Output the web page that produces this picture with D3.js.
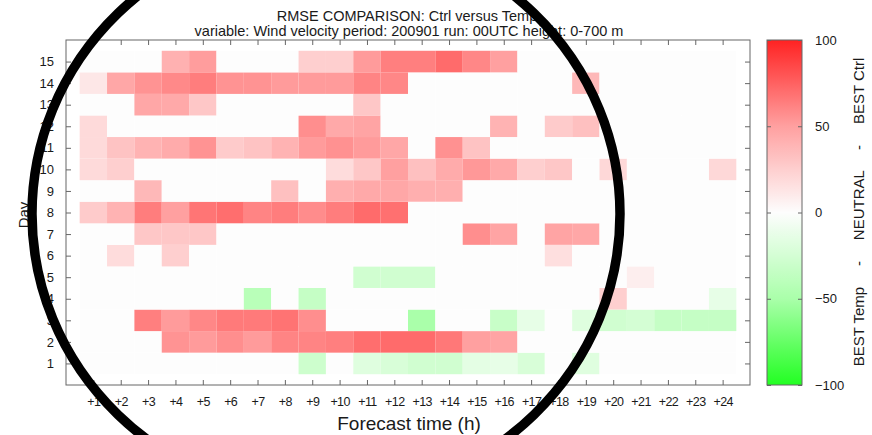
<!DOCTYPE html>
<html>
<head>
<meta charset="utf-8">
<script src="https://cdn.jsdelivr.net/npm/d3@7"></script>
<style>
  html, body { margin: 0; padding: 0; background: #fff; }
  svg { display: block; font-family: "Liberation Sans", Arial, Helvetica, sans-serif; }
</style>
</head>
<body>
<svg id="chart" width="872" height="435"></svg>
<script>
// Forecast hours (x) and days (y)
const hours = d3.range(1, 25);
const hourLabels = hours.map(h => "+" + h);
const days = d3.range(1, 16);

// Relative RMSE difference per day, one value per forecast hour (+1 .. +24)
// positive: Ctrl better, negative: Temp better
const day01 = [0, 0, 0, 0, 0, 0, 0, 0, -29, 0, -18, -22, -27, -27, -15, -13, -22, 0, -18, 0, 0, 0, 0, 0];
const day02 = [0, 0, 0, 55, 52, 57, 52, 61, 61, 63, 70, 71, 71, 66, 50, 48, 0, 0, 0, 0, 0, 0, 0, 0];
const day03 = [0, 0, 63, 52, 60, 65, 65, 68, 57, 0, 0, 0, -50, 0, 0, -32, -13, 0, -18, -27, -25, -34, -34, -34];
const day04 = [0, 0, 0, 0, 0, 0, -41, 0, -34, 0, 0, 0, 0, 0, 0, 0, 0, 0, 0, 25, 0, 0, 0, -13];
const day05 = [0, 0, 0, 0, 0, 0, 0, 0, 0, 0, -27, -27, -27, 0, 0, 0, 0, 0, 0, 0, 8, 0, 0, 0];
const day06 = [0, 18, 0, 25, 0, 0, 0, 0, 0, 0, 0, 0, 0, 0, 0, 0, 0, 16, 0, 0, 0, 0, 0, 0];
const day07 = [0, 0, 29, 29, 29, 0, 0, 0, 0, 0, 0, 0, 0, 0, 57, 48, 0, 48, 46, 0, 0, 0, 0, 0];
const day08 = [27, 40, 64, 50, 67, 70, 61, 64, 58, 64, 71, 69, 0, 0, 0, 0, 0, 0, 0, 0, 0, 0, 0, 0];
const day09 = [0, 0, 37, 0, 0, 0, 0, 33, 0, 42, 45, 46, 42, 42, 0, 0, 0, 0, 0, 0, 0, 0, 0, 0];
const day10 = [19, 25, 0, 0, 0, 0, 0, 0, 0, 18, 29, 50, 33, 44, 53, 45, 25, 29, 0, 20, 0, 0, 0, 20];
const day11 = [19, 31, 40, 44, 55, 27, 31, 40, 52, 56, 52, 46, 0, 56, 31, 0, 0, 0, 0, 0, 0, 0, 0, 0];
const day12 = [19, 0, 0, 0, 0, 0, 0, 0, 57, 45, 48, 0, 0, 0, 0, 40, 0, 27, 33, 0, 0, 0, 0, 0];
const day13 = [0, 0, 46, 45, 29, 0, 0, 0, 0, 0, 29, 0, 0, 0, 0, 0, 0, 0, 0, 0, 0, 0, 0, 0];
const day14 = [12, 46, 55, 59, 64, 55, 55, 52, 52, 52, 61, 60, 0, 0, 0, 0, 0, 0, 37, 0, 0, 0, 0, 0];
const day15 = [0, 0, 0, 41, 51, 0, 0, 0, 25, 25, 52, 63, 63, 71, 60, 50, 0, 0, 0, 0, 0, 0, 0, 0];
const rows = [day01, day02, day03, day04, day05, day06, day07, day08,
              day09, day10, day11, day12, day13, day14, day15];

// Colour bar ticks
const cbTicks = [-100, -50, 0, 50, 100];

// Flattened cell table built from the rows above
const cells = [];
rows.forEach((vals, i) => vals.forEach((v, j) => cells.push({ day: days[i], hour: hours[j], value: v })));

const svg = d3.select("#chart");
const plot = { left: 66, right: 750, top: 40, bottom: 385 };
const cb = { left: 767, right: 802 };
const textColor = "#1a1a1a";
const frameColor = "#666";

const x = d3.scaleLinear().domain([0, 25]).range([plot.left, plot.right]);
const y = d3.scaleLinear().domain([0, 16]).range([plot.bottom, plot.top]);

const color = d3.scaleLinear()
  .domain([-100, -50, 0, 50, 100])
  .range(["#22ff22", "#aaffaa", "#fdfdfd", "#ffa0a0", "#ff2222"])
  .clamp(true);

// Heat-map cells
svg.append("g").selectAll("rect")
  .data(cells)
  .join("rect")
  .attr("x", d => x(d.hour - 0.5))
  .attr("y", d => y(d.day + 0.5))
  .attr("width", d => x(d.hour + 0.5) - x(d.hour - 0.5))
  .attr("height", d => y(d.day - 0.5) - y(d.day + 0.5))
  .attr("fill", d => color(d.value));

// Axes (ticks pointing inwards, mirrored on the opposite sides)
const tickLen = 5;
const xBottom = svg.append("g")
  .attr("transform", `translate(0,${plot.bottom})`)
  .call(d3.axisBottom(x).tickValues(hours).tickFormat((d, i) => hourLabels[i])
    .tickSizeInner(-tickLen).tickSizeOuter(0).tickPadding(12));
const xTop = svg.append("g")
  .attr("transform", `translate(0,${plot.top})`)
  .call(d3.axisTop(x).tickValues(hours).tickFormat("").tickSizeInner(-tickLen).tickSizeOuter(0));
const yLeft = svg.append("g")
  .attr("transform", `translate(${plot.left},0)`)
  .call(d3.axisLeft(y).tickValues(days).tickFormat(d3.format("d"))
    .tickSizeInner(-tickLen).tickSizeOuter(0).tickPadding(12));
const yRight = svg.append("g")
  .attr("transform", `translate(${plot.right},0)`)
  .call(d3.axisRight(y).tickValues(days).tickFormat("").tickSizeInner(-tickLen).tickSizeOuter(0));

[xBottom, xTop, yLeft, yRight].forEach(g => {
  g.select(".domain").remove();
  g.selectAll("line").attr("stroke", frameColor);
  g.selectAll("text").attr("fill", textColor).attr("font-size", 13)
    .attr("font-family", "Liberation Sans, Arial, sans-serif");
});
xBottom.selectAll("text").attr("font-size", 12.5).attr("letter-spacing", -0.6);

// Plot frame
svg.append("rect")
  .attr("x", plot.left).attr("y", plot.top)
  .attr("width", plot.right - plot.left).attr("height", plot.bottom - plot.top)
  .attr("fill", "none").attr("stroke", frameColor).attr("stroke-width", 1);

// Titles
svg.append("text").attr("x", 407).attr("y", 20.5).attr("text-anchor", "middle")
  .attr("font-size", 14.5).attr("fill", textColor)
  .text("RMSE COMPARISON: Ctrl versus Temp");
svg.append("text").attr("x", 409).attr("y", 35.5).attr("text-anchor", "middle")
  .attr("font-size", 14.5).attr("fill", textColor)
  .text("variable: Wind velocity period: 200901 run: 00UTC height: 0-700 m");

// Axis titles
svg.append("text").attr("x", 409).attr("y", 430).attr("text-anchor", "middle")
  .attr("font-size", 19).attr("fill", textColor)
  .text("Forecast time (h)");
svg.append("text").attr("transform", "translate(29,215) rotate(-90)").attr("text-anchor", "middle")
  .attr("font-size", 15).attr("fill", textColor)
  .text("Day");

// Colour bar
const cbY = d3.scaleLinear().domain([-100, 100]).range([plot.bottom, plot.top]);
const defs = svg.append("defs");
const grad = defs.append("linearGradient").attr("id", "cbGrad")
  .attr("x1", 0).attr("y1", 1).attr("x2", 0).attr("y2", 0);
d3.range(-100, 101, 5).forEach(v => {
  grad.append("stop").attr("offset", (v + 100) / 200).attr("stop-color", color(v));
});
svg.append("rect")
  .attr("x", cb.left).attr("y", plot.top)
  .attr("width", cb.right - cb.left).attr("height", plot.bottom - plot.top)
  .attr("fill", "url(#cbGrad)").attr("stroke", frameColor).attr("stroke-width", 1);

const cbAxis = svg.append("g")
  .attr("transform", `translate(${cb.right},0)`)
  .call(d3.axisRight(cbY).tickValues(cbTicks).tickFormat(d3.format("d"))
    .tickSizeInner(-4).tickSizeOuter(0).tickPadding(13));
cbAxis.select(".domain").remove();
cbAxis.selectAll("line").attr("stroke", frameColor);
cbAxis.selectAll("text").attr("fill", textColor).attr("font-size", 13)
  .attr("font-family", "Liberation Sans, Arial, sans-serif");
svg.append("g").attr("transform", `translate(${cb.left},0)`)
  .call(d3.axisLeft(cbY).tickValues(cbTicks).tickFormat("").tickSizeInner(-4).tickSizeOuter(0))
  .call(g => g.select(".domain").remove())
  .selectAll("line").attr("stroke", frameColor);

svg.append("text").attr("transform", "translate(864,212) rotate(-90)").attr("text-anchor", "middle")
  .attr("font-size", 15).attr("fill", textColor).style("white-space", "pre")
  .text("BEST Temp     -     NEUTRAL     -     BEST Ctrl");

// Highlight ring drawn over the chart
svg.append("ellipse")
  .attr("cx", 326).attr("cy", 214).attr("rx", 294).attr("ry", 284)
  .attr("fill", "none").attr("stroke", "#000").attr("stroke-width", 9.5);
</script>
</body>
</html>
